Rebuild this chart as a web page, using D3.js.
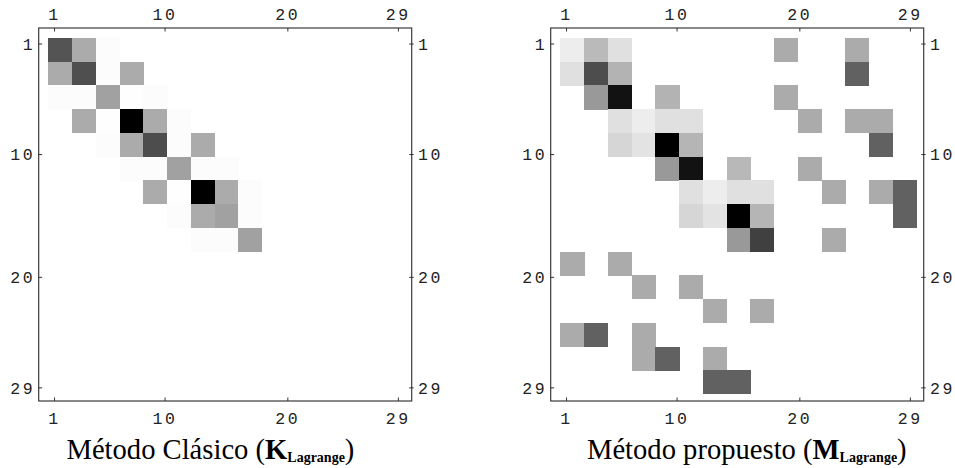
<!DOCTYPE html>
<html>
<head>
<meta charset="utf-8">
<script src="https://cdn.jsdelivr.net/npm/d3@7"></script>
<style>
  html, body { margin: 0; padding: 0; background: #fff; }
  svg { display: block; }
</style>
</head>
<body>
<svg id="chart" width="955" height="468"></svg>
<script>
// ---------- data ----------
// tick labels on all four sides of each matrix frame
const tickLabels = [1, 10, 20, 29];
// matrix index range (1..29), drawn as a 15 x 15 grid of blocks
const blockCount = 15;
// darkness of each block (0 = white, 1 = black), rows top to bottom
const clasicoMatrix = [
  [0.67, 0.33, 0.012, 0, 0, 0, 0, 0, 0, 0, 0, 0, 0, 0, 0],
  [0.33, 0.69, 0.012, 0.33, 0, 0, 0, 0, 0, 0, 0, 0, 0, 0, 0],
  [0.01, 0.012, 0.37, 0.004, 0.012, 0, 0, 0, 0, 0, 0, 0, 0, 0, 0],
  [0, 0.33, 0.004, 1.0, 0.33, 0.012, 0, 0, 0, 0, 0, 0, 0, 0, 0],
  [0, 0, 0.012, 0.33, 0.70, 0.012, 0.33, 0, 0, 0, 0, 0, 0, 0, 0],
  [0, 0, 0, 0.012, 0.012, 0.37, 0.012, 0.012, 0, 0, 0, 0, 0, 0, 0],
  [0, 0, 0, 0, 0.33, 0.004, 1.0, 0.33, 0.012, 0, 0, 0, 0, 0, 0],
  [0, 0, 0, 0, 0, 0.012, 0.33, 0.37, 0.012, 0, 0, 0, 0, 0, 0],
  [0, 0, 0, 0, 0, 0, 0.01, 0.012, 0.37, 0, 0, 0, 0, 0, 0],
  [0, 0, 0, 0, 0, 0, 0, 0, 0, 0, 0, 0, 0, 0, 0],
  [0, 0, 0, 0, 0, 0, 0, 0, 0, 0, 0, 0, 0, 0, 0],
  [0, 0, 0, 0, 0, 0, 0, 0, 0, 0, 0, 0, 0, 0, 0],
  [0, 0, 0, 0, 0, 0, 0, 0, 0, 0, 0, 0, 0, 0, 0],
  [0, 0, 0, 0, 0, 0, 0, 0, 0, 0, 0, 0, 0, 0, 0],
  [0, 0, 0, 0, 0, 0, 0, 0, 0, 0, 0, 0, 0, 0, 0]
];
const propuestoMatrix = [
  [0.07, 0.27, 0.12, 0, 0, 0, 0, 0, 0, 0.33, 0, 0, 0.33, 0, 0],
  [0.12, 0.70, 0.30, 0, 0, 0, 0, 0, 0, 0, 0, 0, 0.62, 0, 0],
  [0, 0.40, 0.93, 0, 0.30, 0, 0, 0, 0, 0.33, 0, 0, 0, 0, 0],
  [0, 0, 0.12, 0.07, 0.12, 0.12, 0, 0, 0, 0, 0.33, 0, 0.33, 0.33, 0],
  [0, 0, 0.16, 0.11, 1.0, 0.29, 0, 0, 0, 0, 0, 0, 0, 0.62, 0],
  [0, 0, 0, 0, 0.40, 0.93, 0, 0.28, 0, 0, 0.33, 0, 0, 0, 0],
  [0, 0, 0, 0, 0, 0.12, 0.07, 0.12, 0.12, 0, 0, 0.33, 0, 0.33, 0.62],
  [0, 0, 0, 0, 0, 0.16, 0.11, 1.0, 0.29, 0, 0, 0, 0, 0, 0.62],
  [0, 0, 0, 0, 0, 0, 0, 0.40, 0.75, 0, 0, 0.33, 0, 0, 0],
  [0.33, 0, 0.33, 0, 0, 0, 0, 0, 0, 0, 0, 0, 0, 0, 0],
  [0, 0, 0, 0.33, 0, 0.33, 0, 0, 0, 0, 0, 0, 0, 0, 0],
  [0, 0, 0, 0, 0, 0, 0.33, 0, 0.33, 0, 0, 0, 0, 0, 0],
  [0.33, 0.62, 0, 0.33, 0, 0, 0, 0, 0, 0, 0, 0, 0, 0, 0],
  [0, 0, 0, 0.33, 0.62, 0, 0.33, 0, 0, 0, 0, 0, 0, 0, 0],
  [0, 0, 0, 0, 0, 0, 0.62, 0.62, 0, 0, 0, 0, 0, 0, 0]
];
const titleMain = ["Método Clásico (", "Método propuesto ("];
const titleSymbol = ["K", "M"];
const titleSub = "Lagrange";

// ---------- layout ----------
const svg = d3.select("#chart");
const frameTop = 28, frameSize = 373;
const panels = [
  { x0: 38.7, matrix: clasicoMatrix, titleX: 66.5 },
  { x0: 550.7, matrix: propuestoMatrix, titleX: 587 }
];
const color = d3.scaleLinear().domain([0, 1]).range(["#ffffff", "#000000"]);
const tickFont = "Liberation Mono, Courier New, monospace";
const tickSize = 16.5, ls = 2.6;

panels.forEach((p, pi) => {
  const g = svg.append("g");
  const x = d3.scaleLinear().domain([0.5, 29.5]).range([p.x0 + 9.7, p.x0 + 9.7 + 356.1]);
  const y = d3.scaleLinear().domain([0.5, 29.5]).range([37.9, 394.0]);
  const bx = d3.scaleBand().domain(d3.range(blockCount)).range([x(0.5), x(29.5)]);
  const by = d3.scaleBand().domain(d3.range(blockCount)).range([y(0.5), y(29.5)]);

  const cells = [];
  p.matrix.forEach((row, r) => row.forEach((v, c) => { if (v > 0) cells.push({ r, c, v }); }));
  g.selectAll("rect.cell").data(cells).join("rect")
    .attr("class", "cell")
    .attr("x", d => bx(d.c))
    .attr("y", d => by(d.r))
    .attr("width", bx.bandwidth() + 0.4)
    .attr("height", by.bandwidth() + 0.4)
    .attr("fill", d => color(d.v))
    .attr("shape-rendering", "crispEdges");

  const fx0 = p.x0, fx1 = p.x0 + frameSize, fy0 = frameTop, fy1 = frameTop + frameSize;
  g.append("rect")
    .attr("x", fx0).attr("y", fy0).attr("width", frameSize).attr("height", frameSize)
    .attr("fill", "none").attr("stroke", "#3a3a3a").attr("stroke-width", 1.2);

  const tk = "#333";
  // top and bottom ticks (inward)
  g.selectAll("line.tt").data(tickLabels).join("line")
    .attr("x1", d => x(d)).attr("x2", d => x(d)).attr("y1", fy0).attr("y2", fy0 + 3.5)
    .attr("stroke", tk).attr("stroke-width", 1);
  g.selectAll("line.tb").data(tickLabels).join("line")
    .attr("x1", d => x(d)).attr("x2", d => x(d)).attr("y1", fy1).attr("y2", fy1 - 3.5)
    .attr("stroke", tk).attr("stroke-width", 1);
  // left ticks (inward), right ticks (straddling)
  g.selectAll("line.tl").data(tickLabels).join("line")
    .attr("x1", fx0).attr("x2", fx0 + 3.5).attr("y1", d => y(d)).attr("y2", d => y(d))
    .attr("stroke", tk).attr("stroke-width", 1);
  g.selectAll("line.tr").data(tickLabels).join("line")
    .attr("x1", fx1 - 2.5).attr("x2", fx1 + 2).attr("y1", d => y(d)).attr("y2", d => y(d))
    .attr("stroke", tk).attr("stroke-width", 1);

  const lab = (sel) => sel.attr("font-family", tickFont).attr("font-size", tickSize)
    .attr("letter-spacing", ls).attr("fill", "#222");
  g.selectAll("text.lt").data(tickLabels).join("text").call(lab)
    .attr("x", d => x(d)).attr("y", 20).attr("text-anchor", "middle").text(d => d);
  g.selectAll("text.lb").data(tickLabels).join("text").call(lab)
    .attr("x", d => x(d)).attr("y", 423.5).attr("text-anchor", "middle").text(d => d);
  g.selectAll("text.ll").data(tickLabels).join("text").call(lab)
    .attr("x", fx0 - 6 + ls).attr("y", d => y(d) + tickSize * 0.36)
    .attr("text-anchor", "end").text(d => d);
  g.selectAll("text.lr").data(tickLabels).join("text").call(lab)
    .attr("x", fx1 + 6.3).attr("y", d => y(d) + tickSize * 0.36)
    .attr("text-anchor", "start").text(d => d);

  // title
  const t = g.append("text")
    .attr("x", p.titleX).attr("y", 459)
    .attr("font-family", "Liberation Serif, Times New Roman, serif")
    .attr("font-size", 28.6).attr("fill", "#000");
  t.append("tspan").text(titleMain[pi]);
  t.append("tspan").attr("font-weight", "bold").text(titleSymbol[pi]);
  t.append("tspan").attr("font-weight", "bold").attr("font-size", 14).attr("dy", 3).text(titleSub);
  t.append("tspan").attr("dy", -3).text(")");
});
</script>
</body>
</html>
